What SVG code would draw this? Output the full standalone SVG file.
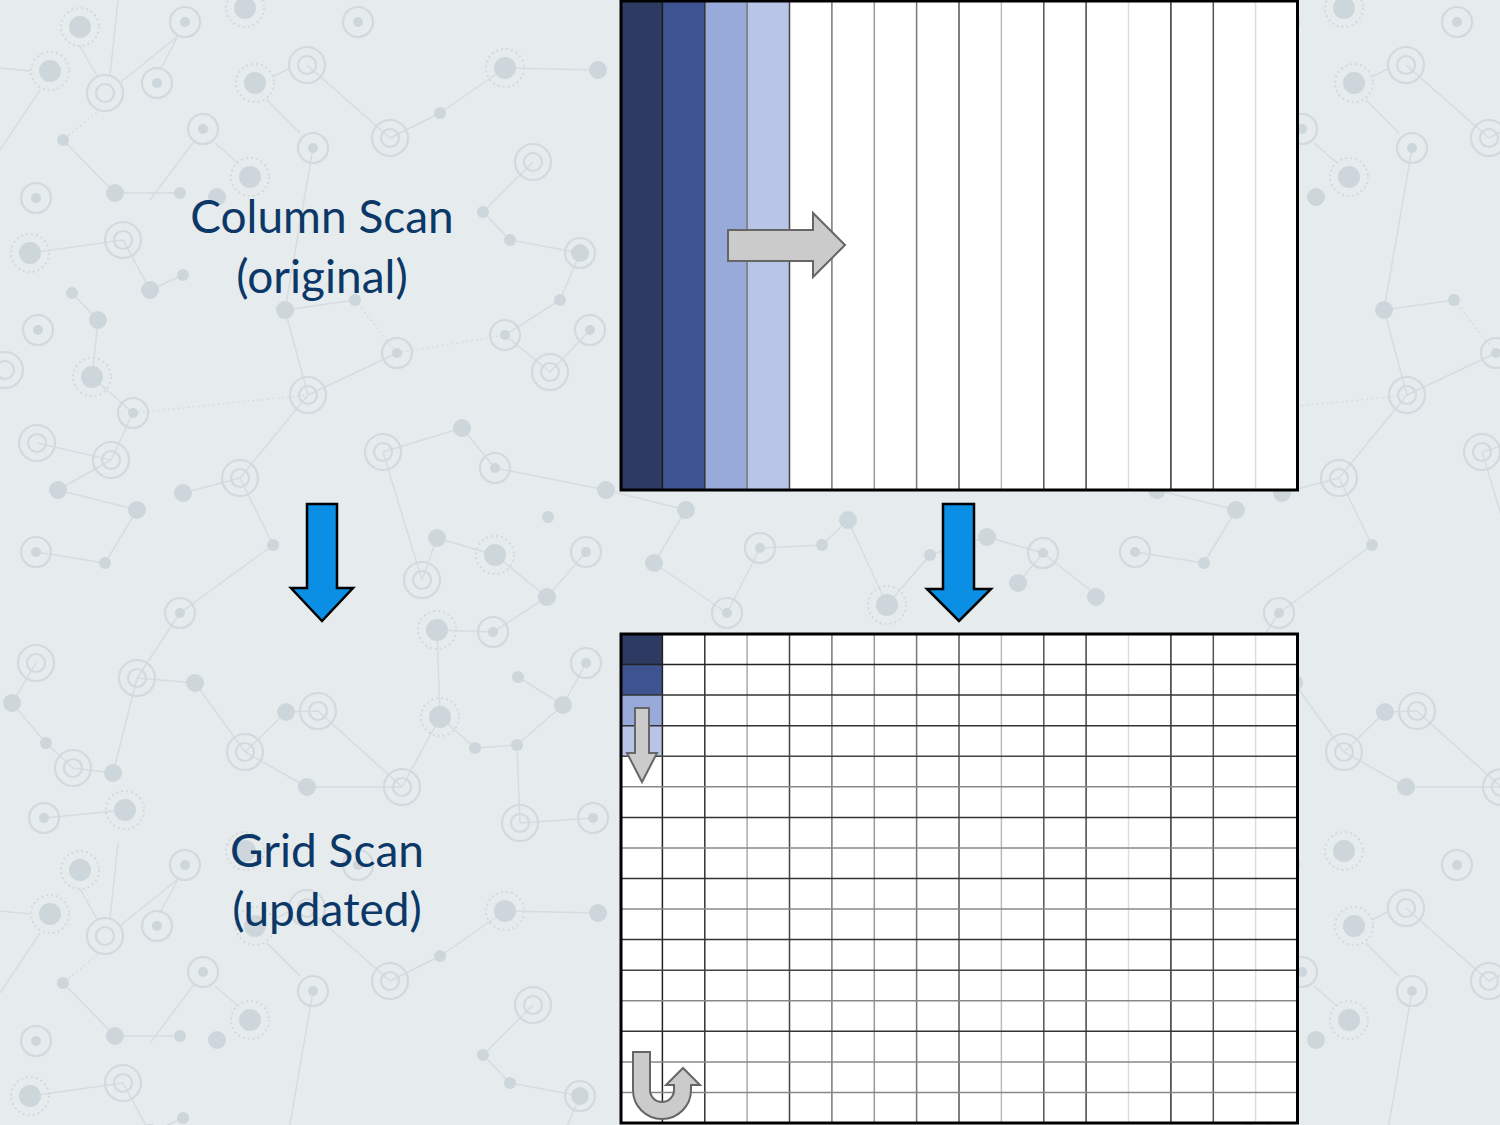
<svg xmlns="http://www.w3.org/2000/svg" xmlns:xlink="http://www.w3.org/1999/xlink" width="1500" height="1125" viewBox="0 0 1500 1125">
<style>
.bgl{stroke:#d6dcdf;stroke-width:1.5;fill:none}
.bgd{stroke:#d6dcdf;stroke-width:1.5;fill:none;stroke-dasharray:2 3}
.ring{fill:none;stroke:#d3d9dc;stroke-width:2.2}
.dot{fill:#cdd6da}
.lbl{font-family:Lato,"Open Sans","Liberation Sans",sans-serif;font-size:46px;fill:#0c3867;text-anchor:middle}
.cell{stroke:none}
.gray{fill:#cbcbcb;stroke:#666;stroke-width:2;stroke-linejoin:miter}
.blue{fill:#0a8fe4;stroke:#000;stroke-width:2.5;stroke-linejoin:miter}
.gl{stroke-width:1.5}
</style>
<defs>
<g id="nA"><circle r="19" fill="none" stroke="#d3d9dc" stroke-width="2" stroke-dasharray="2 3"/><circle r="11" class="dot"/></g>
<g id="nB"><circle r="18" class="ring"/><circle r="9" class="ring"/></g>
<g id="nC"><circle r="15" class="ring"/><circle r="5" class="dot"/></g>
<g id="nD"><circle r="9" class="dot"/></g>
<g id="nE"><circle r="6" class="dot"/></g>
<g id="tile">
<path class="bgl" d="M0,68L30,71 M40,90L0,150 M80,46L97,76 M110,75L118,0 M121,82L178,36 M160,70L178,36 M63,140L115,193 M115,193L180,193 M150,200L195,140 M215,143L238,163 M267,100L300,133 M273,77L290,68
M307,65L390,138 M390,138L440,113 M440,113L505,68 M505,68L598,70 M533,162L483,212 M483,212L510,240 M510,240L580,253 M580,253L560,300 M560,300L505,335 M505,335L550,372 M550,372L590,330 M397,353L308,395 M308,395L285,310 M285,310L355,300 M313,148L285,310
M123,240L30,253 M123,240L150,290 M150,290L183,275 M98,320L72,293 M98,320L92,377 M92,377L133,413 M133,413L111,460 M111,460L37,443 M111,460L58,490 M58,490L137,510 M137,510L105,563 M105,563L36,552 M240,478L183,493 M240,478L308,395
M383,452L462,428 M462,428L495,468 M495,468L606,490 M383,452L422,580 M422,580L437,538 M437,538L495,555 M495,555L547,597 M547,597L586,552 M547,597L493,632 M493,632L437,630 M437,630L440,717 M440,717L475,748 M475,748L517,745 M517,745L563,705 M563,705L586,663 M563,705L518,677
M402,787L440,717 M402,787L307,787 M307,787L245,752 M245,752L195,683 M195,683L137,678 M137,678L113,773 M113,773L73,768 M73,768L46,743 M46,743L12,703 M12,703L36,663 M125,810L44,818 M318,711L286,712 M286,712L245,752 M318,711L402,787 M520,823L593,818 M520,823L517,745 M180,613L137,678 M180,613L273,545 M273,545L240,478
M606,490L686,510 M686,510L654,563 M654,563L727,613 M727,613L760,548 M760,548L822,545 M822,545L848,520 M848,520L887,605 M887,605L930,555 M930,555L987,537 M987,537L1043,553 M1043,553L1018,583 M1043,553L1099,597"/>
<path class="bgd" d="M97,112L63,140 M133,413L308,395 M397,353L505,335 M355,300L397,353"/>
<use xlink:href="#nA" x="80" y="27"/><use xlink:href="#nA" x="50" y="71"/><use xlink:href="#nB" x="105" y="93"/><use xlink:href="#nC" x="157" y="83"/><use xlink:href="#nC" x="185" y="22"/><use xlink:href="#nC" x="203" y="129"/><use xlink:href="#nE" x="63" y="140"/><use xlink:href="#nD" x="115" y="193"/><use xlink:href="#nE" x="180" y="193"/><use xlink:href="#nD" x="217" y="197"/>
<use xlink:href="#nA" x="245" y="8"/><use xlink:href="#nA" x="255" y="83"/><use xlink:href="#nA" x="250" y="177"/><use xlink:href="#nB" x="307" y="65"/><use xlink:href="#nC" x="313" y="148"/><use xlink:href="#nC" x="358" y="22"/><use xlink:href="#nB" x="390" y="138"/><use xlink:href="#nE" x="440" y="113"/><use xlink:href="#nA" x="505" y="68"/><use xlink:href="#nD" x="598" y="70"/><use xlink:href="#nB" x="533" y="162"/><use xlink:href="#nE" x="483" y="212"/>
<use xlink:href="#nC" x="36" y="198"/><use xlink:href="#nB" x="123" y="240"/><use xlink:href="#nA" x="30" y="253"/><use xlink:href="#nE" x="72" y="293"/><use xlink:href="#nD" x="150" y="290"/><use xlink:href="#nE" x="183" y="275"/><use xlink:href="#nD" x="98" y="320"/><use xlink:href="#nC" x="38" y="330"/><use xlink:href="#nD" x="285" y="310"/><use xlink:href="#nE" x="355" y="300"/><use xlink:href="#nC" x="397" y="353"/><use xlink:href="#nB" x="308" y="395"/><use xlink:href="#nA" x="92" y="377"/><use xlink:href="#nB" x="5" y="370"/><use xlink:href="#nC" x="580" y="253"/><use xlink:href="#nD" x="580" y="253"/><use xlink:href="#nE" x="510" y="240"/><use xlink:href="#nC" x="590" y="330"/><use xlink:href="#nC" x="505" y="335"/><use xlink:href="#nB" x="550" y="372"/><use xlink:href="#nE" x="560" y="300"/>
<use xlink:href="#nB" x="37" y="443"/><use xlink:href="#nC" x="133" y="413"/><use xlink:href="#nB" x="111" y="460"/><use xlink:href="#nD" x="58" y="490"/><use xlink:href="#nD" x="183" y="493"/><use xlink:href="#nB" x="240" y="478"/><use xlink:href="#nB" x="383" y="452"/><use xlink:href="#nD" x="462" y="428"/><use xlink:href="#nC" x="495" y="468"/><use xlink:href="#nD" x="606" y="490"/><use xlink:href="#nE" x="548" y="517"/><use xlink:href="#nD" x="137" y="510"/><use xlink:href="#nC" x="36" y="552"/><use xlink:href="#nE" x="105" y="563"/><use xlink:href="#nE" x="273" y="545"/><use xlink:href="#nB" x="422" y="580"/><use xlink:href="#nD" x="437" y="538"/><use xlink:href="#nA" x="495" y="555"/><use xlink:href="#nD" x="547" y="597"/><use xlink:href="#nC" x="586" y="552"/><use xlink:href="#nC" x="180" y="613"/>
<use xlink:href="#nC" x="493" y="632"/><use xlink:href="#nA" x="437" y="630"/><use xlink:href="#nC" x="586" y="663"/><use xlink:href="#nE" x="518" y="677"/><use xlink:href="#nD" x="563" y="705"/><use xlink:href="#nE" x="517" y="745"/><use xlink:href="#nE" x="475" y="748"/><use xlink:href="#nA" x="440" y="717"/><use xlink:href="#nB" x="402" y="787"/><use xlink:href="#nB" x="318" y="711"/><use xlink:href="#nD" x="286" y="712"/><use xlink:href="#nD" x="307" y="787"/><use xlink:href="#nB" x="245" y="752"/><use xlink:href="#nD" x="195" y="683"/><use xlink:href="#nB" x="137" y="678"/><use xlink:href="#nB" x="36" y="663"/><use xlink:href="#nD" x="12" y="703"/><use xlink:href="#nE" x="46" y="743"/><use xlink:href="#nB" x="73" y="768"/><use xlink:href="#nD" x="113" y="773"/><use xlink:href="#nA" x="125" y="810"/><use xlink:href="#nC" x="44" y="818"/><use xlink:href="#nB" x="520" y="823"/><use xlink:href="#nC" x="593" y="818"/>
<use xlink:href="#nD" x="686" y="510"/><use xlink:href="#nD" x="654" y="563"/><use xlink:href="#nC" x="727" y="613"/><use xlink:href="#nC" x="760" y="548"/><use xlink:href="#nE" x="822" y="545"/><use xlink:href="#nD" x="848" y="520"/><use xlink:href="#nA" x="887" y="605"/><use xlink:href="#nE" x="930" y="555"/><use xlink:href="#nD" x="987" y="537"/><use xlink:href="#nD" x="1018" y="583"/><use xlink:href="#nC" x="1043" y="553"/><use xlink:href="#nD" x="1096" y="597"/>
</g>
</defs>

<g id="background">
<rect x="0" y="0" width="1500" height="1125" fill="#e6ebee"/>
<use xlink:href="#tile"/>
<use xlink:href="#tile" x="1099"/>
<use xlink:href="#tile" y="843"/>
<use xlink:href="#tile" x="1099" y="843"/>
</g>

<g id="label-column-scan">
<text class="lbl" x="322" y="233">Column Scan</text>
<text class="lbl" x="322" y="293">(original)</text>
</g>

<g id="label-grid-scan">
<text class="lbl" x="327" y="867">Grid Scan</text>
<text class="lbl" x="327" y="926">(updated)</text>
</g>

<g id="column-scan-grid">
<rect x="620" y="1" width="678" height="489" fill="#ffffff"/>
<rect class="cell" x="620" y="1" width="42.4" height="489" fill="#2d3a62"/>
<rect class="cell" x="662.4" y="1" width="42.4" height="489" fill="#3d5491"/>
<rect class="cell" x="704.8" y="1" width="42.4" height="489" fill="#97aad9"/>
<rect class="cell" x="747.1" y="1" width="42.4" height="489" fill="#b8c5e6"/>
<g class="gl">
<line x1="662.4" y1="0" x2="662.4" y2="490" stroke="#1a1a1a"/>
<line x1="704.8" y1="0" x2="704.8" y2="490" stroke="#333"/>
<line x1="747.1" y1="0" x2="747.1" y2="490" stroke="#777"/>
<line x1="789.5" y1="0" x2="789.5" y2="490" stroke="#444"/>
<line x1="831.9" y1="0" x2="831.9" y2="490" stroke="#777"/>
<line x1="874.3" y1="0" x2="874.3" y2="490" stroke="#999"/>
<line x1="916.6" y1="0" x2="916.6" y2="490" stroke="#777"/>
<line x1="959" y1="0" x2="959" y2="490" stroke="#555"/>
<line x1="1001.4" y1="0" x2="1001.4" y2="490" stroke="#bbb"/>
<line x1="1043.8" y1="0" x2="1043.8" y2="490" stroke="#555"/>
<line x1="1086.1" y1="0" x2="1086.1" y2="490" stroke="#444"/>
<line x1="1128.5" y1="0" x2="1128.5" y2="490" stroke="#ddd"/>
<line x1="1170.9" y1="0" x2="1170.9" y2="490" stroke="#333"/>
<line x1="1213.3" y1="0" x2="1213.3" y2="490" stroke="#555"/>
<line x1="1255.6" y1="0" x2="1255.6" y2="490" stroke="#ddd"/>
</g>
<rect x="621" y="1" width="676.5" height="489" fill="none" stroke="#000" stroke-width="3"/>
<path class="gray" d="M728,230 L813,230 L813,213 L845,245 L813,277 L813,261 L728,261 Z"/>
</g>

<g id="grid-scan-grid">
<rect x="620" y="634" width="678" height="489" fill="#ffffff"/>
<rect class="cell" x="620" y="634" width="42.4" height="30.6" fill="#2d3a62"/>
<rect class="cell" x="620" y="664.6" width="42.4" height="30.6" fill="#3d5491"/>
<rect class="cell" x="620" y="695.1" width="42.4" height="30.6" fill="#97aad9"/>
<rect class="cell" x="620" y="725.7" width="42.4" height="30.6" fill="#b8c5e6"/>
<g class="gl">
<line x1="662.4" y1="634" x2="662.4" y2="1123" stroke="#222"/>
<line x1="704.8" y1="634" x2="704.8" y2="1123" stroke="#333"/>
<line x1="747.1" y1="634" x2="747.1" y2="1123" stroke="#aaa"/>
<line x1="789.5" y1="634" x2="789.5" y2="1123" stroke="#444"/>
<line x1="831.9" y1="634" x2="831.9" y2="1123" stroke="#777"/>
<line x1="874.3" y1="634" x2="874.3" y2="1123" stroke="#999"/>
<line x1="916.6" y1="634" x2="916.6" y2="1123" stroke="#777"/>
<line x1="959" y1="634" x2="959" y2="1123" stroke="#555"/>
<line x1="1001.4" y1="634" x2="1001.4" y2="1123" stroke="#bbb"/>
<line x1="1043.8" y1="634" x2="1043.8" y2="1123" stroke="#555"/>
<line x1="1086.1" y1="634" x2="1086.1" y2="1123" stroke="#444"/>
<line x1="1128.5" y1="634" x2="1128.5" y2="1123" stroke="#ddd"/>
<line x1="1170.9" y1="634" x2="1170.9" y2="1123" stroke="#333"/>
<line x1="1213.3" y1="634" x2="1213.3" y2="1123" stroke="#555"/>
<line x1="1255.6" y1="634" x2="1255.6" y2="1123" stroke="#ddd"/>
<line x1="620" y1="664.6" x2="1298" y2="664.6" stroke="#222"/>
<line x1="620" y1="695.1" x2="1298" y2="695.1" stroke="#333"/>
<line x1="620" y1="725.7" x2="1298" y2="725.7" stroke="#333"/>
<line x1="620" y1="756.3" x2="1298" y2="756.3" stroke="#444"/>
<line x1="620" y1="786.8" x2="1298" y2="786.8" stroke="#888"/>
<line x1="620" y1="817.4" x2="1298" y2="817.4" stroke="#333"/>
<line x1="620" y1="847.9" x2="1298" y2="847.9" stroke="#888"/>
<line x1="620" y1="878.5" x2="1298" y2="878.5" stroke="#333"/>
<line x1="620" y1="909.1" x2="1298" y2="909.1" stroke="#888"/>
<line x1="620" y1="939.6" x2="1298" y2="939.6" stroke="#333"/>
<line x1="620" y1="970.2" x2="1298" y2="970.2" stroke="#444"/>
<line x1="620" y1="1000.8" x2="1298" y2="1000.8" stroke="#888"/>
<line x1="620" y1="1031.3" x2="1298" y2="1031.3" stroke="#333"/>
<line x1="620" y1="1061.9" x2="1298" y2="1061.9" stroke="#888"/>
<line x1="620" y1="1092.4" x2="1298" y2="1092.4" stroke="#888"/>
</g>
<rect x="621" y="634" width="676.5" height="489" fill="none" stroke="#000" stroke-width="3"/>
<path class="gray" d="M635,708 L649,708 L649,753 L657,753 L642,782 L627,753 L635,753 Z"/>
<path class="gray" d="M633,1052 L650,1052 L650,1090 A12,12 0 0 0 674,1090 L674,1085 L666,1085 L683,1068 L700,1085 L691,1085 L691,1090 A29,29 0 0 1 633,1090 Z"/>
</g>

<g id="connectors">
<path class="blue" d="M307,504 L337,504 L337,588 L353,588 L322,621 L291,588 L307,588 Z"/>
<path class="blue" d="M943,504 L974,504 L974,589 L991,589 L959,621 L927,589 L943,589 Z"/>
</g>
</svg>
